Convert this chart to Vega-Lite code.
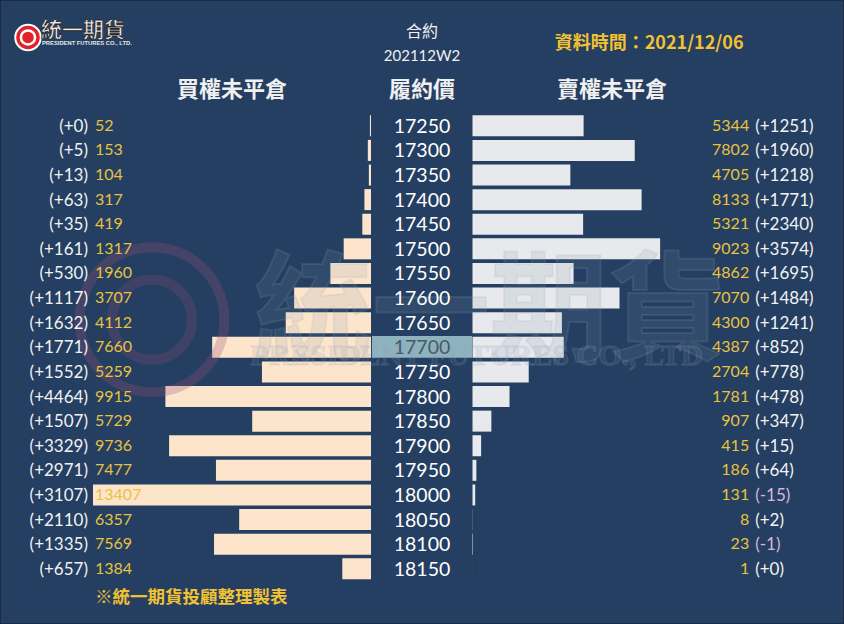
{
  "$schema": "https://vega.github.io/schema/vega-lite/v6.json",
  "width": 844,
  "height": 624,
  "autosize": {"type": "fit", "contains": "padding"},
  "padding": 0,
  "background": "#243f61",
  "config": {
    "view": {"stroke": "#1a2b42", "strokeWidth": 2, "fill": "#243f61"},
    "text": {"font": "Lato"}
  },
  "data": {
    "values": [
      {"strike": 17250, "call": 52, "callChg": 0, "put": 5344, "putChg": 1251},
      {"strike": 17300, "call": 153, "callChg": 5, "put": 7802, "putChg": 1960},
      {"strike": 17350, "call": 104, "callChg": 13, "put": 4705, "putChg": 1218},
      {"strike": 17400, "call": 317, "callChg": 63, "put": 8133, "putChg": 1771},
      {"strike": 17450, "call": 419, "callChg": 35, "put": 5321, "putChg": 2340},
      {"strike": 17500, "call": 1317, "callChg": 161, "put": 9023, "putChg": 3574},
      {"strike": 17550, "call": 1960, "callChg": 530, "put": 4862, "putChg": 1695},
      {"strike": 17600, "call": 3707, "callChg": 1117, "put": 7070, "putChg": 1484},
      {"strike": 17650, "call": 4112, "callChg": 1632, "put": 4300, "putChg": 1241},
      {"strike": 17700, "call": 7660, "callChg": 1771, "put": 4387, "putChg": 852},
      {"strike": 17750, "call": 5259, "callChg": 1552, "put": 2704, "putChg": 778},
      {"strike": 17800, "call": 9915, "callChg": 4464, "put": 1781, "putChg": 478},
      {"strike": 17850, "call": 5729, "callChg": 1507, "put": 907, "putChg": 347},
      {"strike": 17900, "call": 9736, "callChg": 3329, "put": 415, "putChg": 15},
      {"strike": 17950, "call": 7477, "callChg": 2971, "put": 186, "putChg": 64},
      {"strike": 18000, "call": 13407, "callChg": 3107, "put": 131, "putChg": -15},
      {"strike": 18050, "call": 6357, "callChg": 2110, "put": 8, "putChg": 2},
      {"strike": 18100, "call": 7569, "callChg": 1335, "put": 23, "putChg": -1},
      {"strike": 18150, "call": 1384, "callChg": 657, "put": 1, "putChg": 0}
    ]
  },
  "transform": [
    {"calculate": "'(' + (datum.callChg >= 0 ? '+' : '') + datum.callChg + ')'", "as": "callChgLabel"},
    {"calculate": "'(' + (datum.putChg >= 0 ? '+' : '') + datum.putChg + ')'", "as": "putChgLabel"}
  ],
  "resolve": {"scale": {"x": "independent"}},
  "encoding": {
    "y": {"field": "strike", "type": "quantitative", "scale": {"domain": [17004.6, 18252], "range": [0, 624], "nice": false, "zero": false}, "axis": null}
  },
  "layer": [
    {
      "mark": {"type": "bar", "orient": "horizontal", "size": 21, "color": "#fde5cc"},
      "encoding": {
        "x": {"field": "call", "type": "quantitative", "scale": {"domain": [0, 17891], "range": [371, 0], "nice": false}, "axis": null}
      }
    },
    {
      "mark": {"type": "bar", "orient": "horizontal", "size": 21, "color": "#e7e9ec"},
      "encoding": {
        "x": {"field": "put", "type": "quantitative", "scale": {"domain": [0, 17890], "range": [472.5, 844.5], "nice": false}, "axis": null}
      }
    },
    {
      "transform": [{"filter": "datum.strike == 17700"}],
      "mark": {"type": "rect", "color": "#8db3bf"},
      "encoding": {
        "x": {"datum": -50, "type": "quantitative", "scale": {"domain": [0, 17891], "range": [371, 0], "nice": false}, "axis": null},
        "x2": {"datum": -4870},
        "y": {"datum": 17677, "type": "quantitative"},
        "y2": {"datum": 17721}
      }
    },
    {
      "transform": [{"filter": "datum.strike == 17250"}],
      "mark": {"type": "point", "shape": "circle", "filled": false, "size": 21000, "stroke": "#a0507a", "strokeWidth": 10, "opacity": 0.28},
      "encoding": {
        "x": {"datum": 10561, "type": "quantitative", "scale": {"domain": [0, 17891], "range": [371, 0], "nice": false}, "axis": null},
        "y": {"datum": 17644, "type": "quantitative"}
      }
    },
    {
      "transform": [{"filter": "datum.strike == 17250"}],
      "mark": {"type": "point", "shape": "circle", "filled": false, "size": 6400, "stroke": "#a0507a", "strokeWidth": 10, "opacity": 0.22},
      "encoding": {
        "x": {"datum": 10561, "type": "quantitative", "scale": {"domain": [0, 17891], "range": [371, 0], "nice": false}, "axis": null},
        "y": {"datum": 17644, "type": "quantitative"}
      }
    },
    {
      "transform": [{"filter": "datum.strike == 17250"}],
      "mark": {"type": "text", "text": "統一期貨", "font": "Noto Sans CJK TC", "fontWeight": "bold", "fontSize": 118, "align": "center", "baseline": "middle", "fill": "#8093ad", "fillOpacity": 0.14, "stroke": "#9aaac0", "strokeOpacity": 0.16, "strokeWidth": 2},
      "encoding": {
        "x": {"datum": 842, "type": "quantitative", "scale": {"domain": [0, 17890], "range": [472.5, 844.5], "nice": false}, "axis": null},
        "y": {"datum": 17636, "type": "quantitative"}
      }
    },
    {
      "transform": [{"filter": "datum.strike == 17250"}],
      "mark": {"type": "text", "text": "PRESIDENT FUTURES CO., LTD", "font": "Liberation Serif", "fontWeight": "bold", "fontSize": 30, "align": "center", "baseline": "middle", "fill": "#8093ad", "fillOpacity": 0.12, "stroke": "#9aaac0", "strokeOpacity": 0.18, "strokeWidth": 1.5},
      "encoding": {
        "x": {"datum": 200, "type": "quantitative", "scale": {"domain": [0, 17890], "range": [472.5, 844.5], "nice": false}, "axis": null},
        "y": {"datum": 17718, "type": "quantitative"}
      }
    },
    {
      "mark": {"type": "text", "fontSize": 19.5, "align": "center", "baseline": "middle", "dy": 1},
      "encoding": {
        "text": {"field": "strike", "type": "quantitative", "format": "d"},
        "color": {"condition": {"test": "datum.strike == 17700", "value": "#4a5a66"}, "value": "#ffffff"}
      }
    },
    {
      "mark": {"type": "text", "fontSize": 17, "align": "right", "baseline": "middle", "color": "#f2f2f2", "dy": 1},
      "encoding": {
        "x": {"datum": 13648, "type": "quantitative", "scale": {"domain": [0, 17891], "range": [371, 0], "nice": false}, "axis": null},
        "text": {"field": "callChgLabel"}
      }
    },
    {
      "mark": {"type": "text", "fontSize": 16, "align": "left", "baseline": "middle", "color": "#e9c23f"},
      "encoding": {
        "x": {"datum": 13310, "type": "quantitative", "scale": {"domain": [0, 17891], "range": [371, 0], "nice": false}, "axis": null},
        "text": {"field": "call", "type": "quantitative", "format": "d"}
      }
    },
    {
      "mark": {"type": "text", "fontSize": 16, "align": "right", "baseline": "middle", "color": "#e9c23f"},
      "encoding": {
        "x": {"datum": 13306, "type": "quantitative", "scale": {"domain": [0, 17890], "range": [472.5, 844.5], "nice": false}, "axis": null},
        "text": {"field": "put", "type": "quantitative", "format": "d"}
      }
    },
    {
      "mark": {"type": "text", "fontSize": 17, "align": "left", "baseline": "middle", "dy": 1},
      "encoding": {
        "x": {"datum": 13595, "type": "quantitative", "scale": {"domain": [0, 17890], "range": [472.5, 844.5], "nice": false}, "axis": null},
        "text": {"field": "putChgLabel"},
        "color": {"condition": {"test": "datum.putChg < 0", "value": "#d8b6d8"}, "value": "#f2f2f2"}
      }
    },
    {
      "transform": [{"filter": "datum.strike == 17250"}],
      "mark": {"type": "text", "text": "買權未平倉", "font": "Noto Sans CJK TC", "fontWeight": "bold", "fontSize": 22, "align": "center", "baseline": "middle", "color": "#f0f0f0", "dy": -2},
      "encoding": {
        "x": {"datum": 6703, "type": "quantitative", "scale": {"domain": [0, 17891], "range": [371, 0], "nice": false}, "axis": null},
        "y": {"datum": 17180.5, "type": "quantitative"}
      }
    },
    {
      "transform": [{"filter": "datum.strike == 17250"}],
      "mark": {"type": "text", "text": "賣權未平倉", "font": "Noto Sans CJK TC", "fontWeight": "bold", "fontSize": 22, "align": "center", "baseline": "middle", "color": "#f0f0f0", "dy": -2},
      "encoding": {
        "x": {"datum": 6713, "type": "quantitative", "scale": {"domain": [0, 17890], "range": [472.5, 844.5], "nice": false}, "axis": null},
        "y": {"datum": 17180.5, "type": "quantitative"}
      }
    },
    {
      "transform": [{"filter": "datum.strike == 17250"}],
      "mark": {"type": "text", "text": "履約價", "font": "Noto Sans CJK TC", "fontWeight": "bold", "fontSize": 22, "align": "center", "baseline": "middle", "color": "#f0f0f0", "dy": -2},
      "encoding": {
        "y": {"datum": 17180.5, "type": "quantitative"}
      }
    },
    {
      "transform": [{"filter": "datum.strike == 17250"}],
      "mark": {"type": "text", "text": "合約", "font": "Noto Sans CJK TC", "fontSize": 16, "align": "center", "baseline": "middle", "color": "#f0f0f0", "dy": -2},
      "encoding": {
        "y": {"datum": 17062.6, "type": "quantitative"}
      }
    },
    {
      "transform": [{"filter": "datum.strike == 17250"}],
      "mark": {"type": "text", "text": "202112W2", "font": "Lato", "fontSize": 15, "align": "center", "baseline": "middle", "color": "#f0f0f0"},
      "encoding": {
        "y": {"datum": 17108.5, "type": "quantitative"}
      }
    },
    {
      "transform": [{"filter": "datum.strike == 17250"}],
      "mark": {"type": "text", "text": "資料時間：2021/12/06", "font": "Noto Sans CJK TC", "fontWeight": "bold", "fontSize": 18, "align": "center", "baseline": "middle", "color": "#f2c232", "dy": -1},
      "encoding": {
        "x": {"datum": 8494, "type": "quantitative", "scale": {"domain": [0, 17890], "range": [472.5, 844.5], "nice": false}, "axis": null},
        "y": {"datum": 17086.5, "type": "quantitative"}
      }
    },
    {
      "transform": [{"filter": "datum.strike == 17250"}],
      "mark": {"type": "text", "text": "※統一期貨投顧整理製表", "font": "Noto Sans CJK TC", "fontWeight": "bold", "fontSize": 17.5, "align": "left", "baseline": "middle", "color": "#f2c232", "dy": -1},
      "encoding": {
        "x": {"datum": 13310, "type": "quantitative", "scale": {"domain": [0, 17891], "range": [371, 0], "nice": false}, "axis": null},
        "y": {"datum": 18212, "type": "quantitative"}
      }
    },
    {
      "transform": [{"filter": "datum.strike == 17250"}],
      "mark": {"type": "point", "shape": "circle", "filled": true, "size": 650, "color": "#e0222a", "stroke": "#ffffff", "strokeWidth": 2, "opacity": 1},
      "encoding": {
        "x": {"datum": 16541, "type": "quantitative", "scale": {"domain": [0, 17891], "range": [371, 0], "nice": false}, "axis": null},
        "y": {"datum": 17070.6, "type": "quantitative"}
      }
    },
    {
      "transform": [{"filter": "datum.strike == 17250"}],
      "mark": {"type": "point", "shape": "circle", "filled": false, "size": 200, "stroke": "#ffffff", "strokeWidth": 2.5, "opacity": 1},
      "encoding": {
        "x": {"datum": 16541, "type": "quantitative", "scale": {"domain": [0, 17891], "range": [371, 0], "nice": false}, "axis": null},
        "y": {"datum": 17070.6, "type": "quantitative"}
      }
    },
    {
      "transform": [{"filter": "datum.strike == 17250"}],
      "mark": {"type": "text", "text": "統一期貨", "font": "Noto Sans CJK TC", "fontWeight": "bold", "fontSize": 21, "align": "left", "baseline": "middle", "fill": "#e8e8e8", "stroke": "#2a2a2a", "strokeWidth": 0.8, "dy": -1},
      "encoding": {
        "x": {"datum": 15914, "type": "quantitative", "scale": {"domain": [0, 17891], "range": [371, 0], "nice": false}, "axis": null},
        "y": {"datum": 17059.6, "type": "quantitative"}
      }
    },
    {
      "transform": [{"filter": "datum.strike == 17250"}],
      "mark": {"type": "text", "text": "PRESIDENT FUTURES CO., LTD.", "font": "Liberation Sans", "fontWeight": "bold", "fontSize": 5.8, "align": "left", "baseline": "middle", "color": "#e8e8e8"},
      "encoding": {
        "x": {"datum": 15866, "type": "quantitative", "scale": {"domain": [0, 17891], "range": [371, 0], "nice": false}, "axis": null},
        "y": {"datum": 17082.6, "type": "quantitative"}
      }
    }
  ]
}
